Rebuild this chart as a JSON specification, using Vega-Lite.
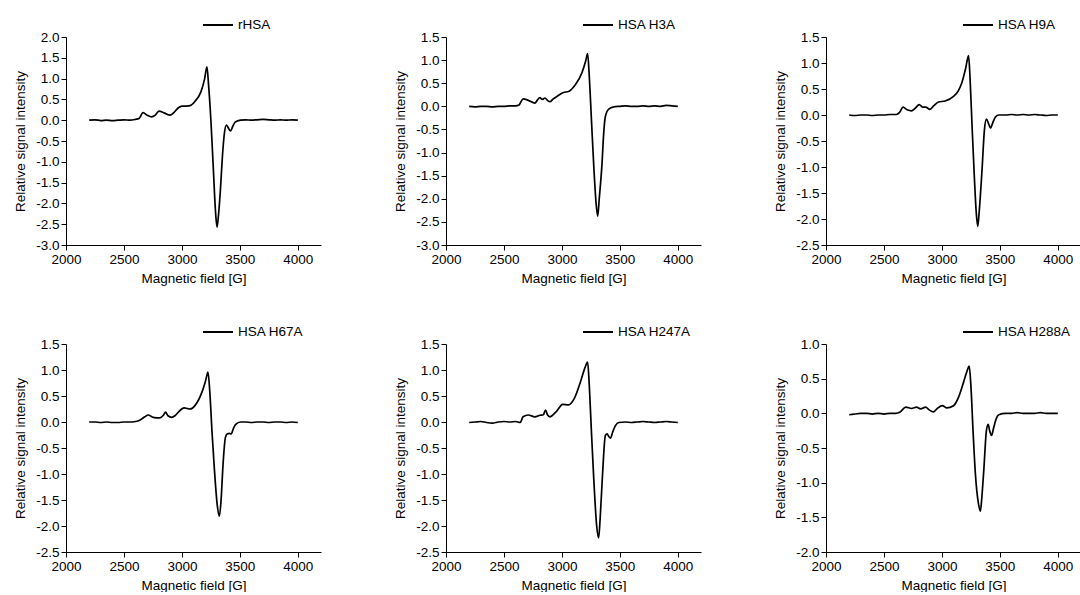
{
  "$schema": "https://vega.github.io/schema/vega-lite/v6.json",
  "padding": {"left": 13, "top": 9, "right": 0, "bottom": 0},
  "background": "white",
  "columns": 3,
  "spacing": {"row": 31, "column": 72},
  "resolve": {"scale": {"x": "independent", "y": "independent", "color": "independent"}, "legend": {"color": "independent"}, "axis": {"x": "independent", "y": "independent"}},
  "datasets": {
    "epr": [
      {"s": "rHSA", "B": 2200, "I": 0.0}, {"s": "rHSA", "B": 2250, "I": 0.01}, {"s": "rHSA", "B": 2300, "I": -0.01}, {"s": "rHSA", "B": 2350, "I": 0.0}, {"s": "rHSA", "B": 2400, "I": -0.01}, {"s": "rHSA", "B": 2450, "I": 0.0}, {"s": "rHSA", "B": 2500, "I": 0.01}, {"s": "rHSA", "B": 2550, "I": 0.0}, {"s": "rHSA", "B": 2600, "I": 0.02}, {"s": "rHSA", "B": 2630, "I": 0.04}, {"s": "rHSA", "B": 2665, "I": 0.18}, {"s": "rHSA", "B": 2700, "I": 0.12}, {"s": "rHSA", "B": 2738, "I": 0.08}, {"s": "rHSA", "B": 2770, "I": 0.12}, {"s": "rHSA", "B": 2801, "I": 0.22}, {"s": "rHSA", "B": 2850, "I": 0.17}, {"s": "rHSA", "B": 2897, "I": 0.12}, {"s": "rHSA", "B": 2930, "I": 0.18}, {"s": "rHSA", "B": 2970, "I": 0.30}, {"s": "rHSA", "B": 3000, "I": 0.34}, {"s": "rHSA", "B": 3040, "I": 0.34}, {"s": "rHSA", "B": 3070, "I": 0.35}, {"s": "rHSA", "B": 3114, "I": 0.46}, {"s": "rHSA", "B": 3164, "I": 0.68}, {"s": "rHSA", "B": 3195, "I": 0.98}, {"s": "rHSA", "B": 3216, "I": 1.28}, {"s": "rHSA", "B": 3230, "I": 0.85}, {"s": "rHSA", "B": 3250, "I": 0.0}, {"s": "rHSA", "B": 3270, "I": -1.1}, {"s": "rHSA", "B": 3290, "I": -2.2}, {"s": "rHSA", "B": 3303, "I": -2.57}, {"s": "rHSA", "B": 3315, "I": -2.3}, {"s": "rHSA", "B": 3332, "I": -1.68}, {"s": "rHSA", "B": 3350, "I": -0.85}, {"s": "rHSA", "B": 3365, "I": -0.35}, {"s": "rHSA", "B": 3384, "I": -0.12}, {"s": "rHSA", "B": 3400, "I": -0.18}, {"s": "rHSA", "B": 3419, "I": -0.26}, {"s": "rHSA", "B": 3440, "I": -0.14}, {"s": "rHSA", "B": 3462, "I": -0.04}, {"s": "rHSA", "B": 3506, "I": 0.0}, {"s": "rHSA", "B": 3550, "I": 0.01}, {"s": "rHSA", "B": 3600, "I": 0.0}, {"s": "rHSA", "B": 3650, "I": 0.01}, {"s": "rHSA", "B": 3700, "I": 0.02}, {"s": "rHSA", "B": 3750, "I": 0.01}, {"s": "rHSA", "B": 3800, "I": 0.0}, {"s": "rHSA", "B": 3850, "I": 0.01}, {"s": "rHSA", "B": 3900, "I": 0.0}, {"s": "rHSA", "B": 3950, "I": 0.01}, {"s": "rHSA", "B": 4000, "I": 0.0},

      {"s": "HSA H3A", "B": 2200, "I": 0.0}, {"s": "HSA H3A", "B": 2250, "I": -0.01}, {"s": "HSA H3A", "B": 2300, "I": 0.0}, {"s": "HSA H3A", "B": 2350, "I": 0.0}, {"s": "HSA H3A", "B": 2400, "I": -0.01}, {"s": "HSA H3A", "B": 2450, "I": 0.0}, {"s": "HSA H3A", "B": 2500, "I": 0.0}, {"s": "HSA H3A", "B": 2550, "I": 0.01}, {"s": "HSA H3A", "B": 2600, "I": 0.01}, {"s": "HSA H3A", "B": 2630, "I": 0.03}, {"s": "HSA H3A", "B": 2665, "I": 0.16}, {"s": "HSA H3A", "B": 2710, "I": 0.13}, {"s": "HSA H3A", "B": 2767, "I": 0.07}, {"s": "HSA H3A", "B": 2790, "I": 0.14}, {"s": "HSA H3A", "B": 2810, "I": 0.19}, {"s": "HSA H3A", "B": 2830, "I": 0.15}, {"s": "HSA H3A", "B": 2854, "I": 0.18}, {"s": "HSA H3A", "B": 2875, "I": 0.13}, {"s": "HSA H3A", "B": 2897, "I": 0.10}, {"s": "HSA H3A", "B": 2925, "I": 0.16}, {"s": "HSA H3A", "B": 2955, "I": 0.21}, {"s": "HSA H3A", "B": 3013, "I": 0.30}, {"s": "HSA H3A", "B": 3057, "I": 0.32}, {"s": "HSA H3A", "B": 3114, "I": 0.46}, {"s": "HSA H3A", "B": 3172, "I": 0.72}, {"s": "HSA H3A", "B": 3205, "I": 0.98}, {"s": "HSA H3A", "B": 3222, "I": 1.14}, {"s": "HSA H3A", "B": 3235, "I": 0.7}, {"s": "HSA H3A", "B": 3255, "I": -0.3}, {"s": "HSA H3A", "B": 3275, "I": -1.3}, {"s": "HSA H3A", "B": 3295, "I": -2.1}, {"s": "HSA H3A", "B": 3309, "I": -2.38}, {"s": "HSA H3A", "B": 3322, "I": -2.0}, {"s": "HSA H3A", "B": 3346, "I": -1.24}, {"s": "HSA H3A", "B": 3360, "I": -0.6}, {"s": "HSA H3A", "B": 3375, "I": -0.22}, {"s": "HSA H3A", "B": 3404, "I": -0.06}, {"s": "HSA H3A", "B": 3448, "I": -0.01}, {"s": "HSA H3A", "B": 3500, "I": 0.0}, {"s": "HSA H3A", "B": 3550, "I": 0.01}, {"s": "HSA H3A", "B": 3600, "I": 0.0}, {"s": "HSA H3A", "B": 3650, "I": 0.0}, {"s": "HSA H3A", "B": 3700, "I": 0.01}, {"s": "HSA H3A", "B": 3750, "I": 0.0}, {"s": "HSA H3A", "B": 3800, "I": 0.01}, {"s": "HSA H3A", "B": 3850, "I": 0.0}, {"s": "HSA H3A", "B": 3900, "I": 0.02}, {"s": "HSA H3A", "B": 3950, "I": 0.01}, {"s": "HSA H3A", "B": 4000, "I": 0.0},

      {"s": "HSA H9A", "B": 2200, "I": 0.0}, {"s": "HSA H9A", "B": 2250, "I": -0.01}, {"s": "HSA H9A", "B": 2300, "I": 0.0}, {"s": "HSA H9A", "B": 2350, "I": 0.0}, {"s": "HSA H9A", "B": 2400, "I": -0.01}, {"s": "HSA H9A", "B": 2450, "I": 0.0}, {"s": "HSA H9A", "B": 2500, "I": 0.0}, {"s": "HSA H9A", "B": 2550, "I": 0.01}, {"s": "HSA H9A", "B": 2607, "I": 0.01}, {"s": "HSA H9A", "B": 2635, "I": 0.05}, {"s": "HSA H9A", "B": 2665, "I": 0.15}, {"s": "HSA H9A", "B": 2700, "I": 0.10}, {"s": "HSA H9A", "B": 2738, "I": 0.08}, {"s": "HSA H9A", "B": 2770, "I": 0.13}, {"s": "HSA H9A", "B": 2804, "I": 0.20}, {"s": "HSA H9A", "B": 2835, "I": 0.15}, {"s": "HSA H9A", "B": 2860, "I": 0.15}, {"s": "HSA H9A", "B": 2897, "I": 0.11}, {"s": "HSA H9A", "B": 2930, "I": 0.18}, {"s": "HSA H9A", "B": 2970, "I": 0.25}, {"s": "HSA H9A", "B": 3028, "I": 0.27}, {"s": "HSA H9A", "B": 3100, "I": 0.36}, {"s": "HSA H9A", "B": 3140, "I": 0.46}, {"s": "HSA H9A", "B": 3172, "I": 0.62}, {"s": "HSA H9A", "B": 3205, "I": 0.90}, {"s": "HSA H9A", "B": 3230, "I": 1.14}, {"s": "HSA H9A", "B": 3243, "I": 0.7}, {"s": "HSA H9A", "B": 3260, "I": -0.2}, {"s": "HSA H9A", "B": 3280, "I": -1.2}, {"s": "HSA H9A", "B": 3297, "I": -1.9}, {"s": "HSA H9A", "B": 3309, "I": -2.14}, {"s": "HSA H9A", "B": 3322, "I": -1.85}, {"s": "HSA H9A", "B": 3346, "I": -1.06}, {"s": "HSA H9A", "B": 3367, "I": -0.28}, {"s": "HSA H9A", "B": 3384, "I": -0.08}, {"s": "HSA H9A", "B": 3400, "I": -0.15}, {"s": "HSA H9A", "B": 3419, "I": -0.25}, {"s": "HSA H9A", "B": 3440, "I": -0.14}, {"s": "HSA H9A", "B": 3462, "I": -0.04}, {"s": "HSA H9A", "B": 3490, "I": 0.0}, {"s": "HSA H9A", "B": 3550, "I": 0.0}, {"s": "HSA H9A", "B": 3600, "I": 0.01}, {"s": "HSA H9A", "B": 3650, "I": 0.0}, {"s": "HSA H9A", "B": 3700, "I": 0.01}, {"s": "HSA H9A", "B": 3750, "I": 0.0}, {"s": "HSA H9A", "B": 3800, "I": 0.01}, {"s": "HSA H9A", "B": 3850, "I": 0.0}, {"s": "HSA H9A", "B": 3900, "I": -0.01}, {"s": "HSA H9A", "B": 3950, "I": 0.0}, {"s": "HSA H9A", "B": 4000, "I": 0.0},

      {"s": "HSA H67A", "B": 2200, "I": 0.0}, {"s": "HSA H67A", "B": 2250, "I": 0.0}, {"s": "HSA H67A", "B": 2300, "I": -0.01}, {"s": "HSA H67A", "B": 2350, "I": 0.0}, {"s": "HSA H67A", "B": 2400, "I": -0.01}, {"s": "HSA H67A", "B": 2450, "I": -0.01}, {"s": "HSA H67A", "B": 2500, "I": 0.0}, {"s": "HSA H67A", "B": 2550, "I": 0.0}, {"s": "HSA H67A", "B": 2600, "I": 0.01}, {"s": "HSA H67A", "B": 2640, "I": 0.04}, {"s": "HSA H67A", "B": 2680, "I": 0.10}, {"s": "HSA H67A", "B": 2709, "I": 0.135}, {"s": "HSA H67A", "B": 2752, "I": 0.09}, {"s": "HSA H67A", "B": 2810, "I": 0.08}, {"s": "HSA H67A", "B": 2840, "I": 0.13}, {"s": "HSA H67A", "B": 2859, "I": 0.19}, {"s": "HSA H67A", "B": 2880, "I": 0.12}, {"s": "HSA H67A", "B": 2912, "I": 0.09}, {"s": "HSA H67A", "B": 2940, "I": 0.12}, {"s": "HSA H67A", "B": 2970, "I": 0.19}, {"s": "HSA H67A", "B": 3019, "I": 0.27}, {"s": "HSA H67A", "B": 3071, "I": 0.25}, {"s": "HSA H67A", "B": 3114, "I": 0.32}, {"s": "HSA H67A", "B": 3172, "I": 0.57}, {"s": "HSA H67A", "B": 3205, "I": 0.80}, {"s": "HSA H67A", "B": 3225, "I": 0.96}, {"s": "HSA H67A", "B": 3240, "I": 0.6}, {"s": "HSA H67A", "B": 3260, "I": -0.2}, {"s": "HSA H67A", "B": 3280, "I": -0.9}, {"s": "HSA H67A", "B": 3305, "I": -1.6}, {"s": "HSA H67A", "B": 3323, "I": -1.81}, {"s": "HSA H67A", "B": 3338, "I": -1.5}, {"s": "HSA H67A", "B": 3355, "I": -0.81}, {"s": "HSA H67A", "B": 3375, "I": -0.30}, {"s": "HSA H67A", "B": 3390, "I": -0.23}, {"s": "HSA H67A", "B": 3410, "I": -0.22}, {"s": "HSA H67A", "B": 3425, "I": -0.23}, {"s": "HSA H67A", "B": 3445, "I": -0.12}, {"s": "HSA H67A", "B": 3462, "I": -0.05}, {"s": "HSA H67A", "B": 3506, "I": 0.0}, {"s": "HSA H67A", "B": 3550, "I": 0.0}, {"s": "HSA H67A", "B": 3600, "I": -0.01}, {"s": "HSA H67A", "B": 3650, "I": 0.0}, {"s": "HSA H67A", "B": 3700, "I": 0.0}, {"s": "HSA H67A", "B": 3750, "I": -0.01}, {"s": "HSA H67A", "B": 3800, "I": 0.0}, {"s": "HSA H67A", "B": 3850, "I": 0.0}, {"s": "HSA H67A", "B": 3900, "I": -0.01}, {"s": "HSA H67A", "B": 3950, "I": 0.0}, {"s": "HSA H67A", "B": 4000, "I": -0.01},

      {"s": "HSA H247A", "B": 2200, "I": -0.01}, {"s": "HSA H247A", "B": 2250, "I": 0.0}, {"s": "HSA H247A", "B": 2300, "I": 0.01}, {"s": "HSA H247A", "B": 2350, "I": -0.01}, {"s": "HSA H247A", "B": 2400, "I": -0.02}, {"s": "HSA H247A", "B": 2450, "I": 0.0}, {"s": "HSA H247A", "B": 2500, "I": 0.01}, {"s": "HSA H247A", "B": 2550, "I": 0.0}, {"s": "HSA H247A", "B": 2600, "I": 0.01}, {"s": "HSA H247A", "B": 2640, "I": -0.01}, {"s": "HSA H247A", "B": 2665, "I": 0.10}, {"s": "HSA H247A", "B": 2709, "I": 0.135}, {"s": "HSA H247A", "B": 2767, "I": 0.10}, {"s": "HSA H247A", "B": 2810, "I": 0.13}, {"s": "HSA H247A", "B": 2840, "I": 0.14}, {"s": "HSA H247A", "B": 2859, "I": 0.23}, {"s": "HSA H247A", "B": 2875, "I": 0.14}, {"s": "HSA H247A", "B": 2897, "I": 0.10}, {"s": "HSA H247A", "B": 2925, "I": 0.14}, {"s": "HSA H247A", "B": 2955, "I": 0.21}, {"s": "HSA H247A", "B": 3007, "I": 0.34}, {"s": "HSA H247A", "B": 3057, "I": 0.33}, {"s": "HSA H247A", "B": 3106, "I": 0.45}, {"s": "HSA H247A", "B": 3164, "I": 0.80}, {"s": "HSA H247A", "B": 3200, "I": 1.05}, {"s": "HSA H247A", "B": 3222, "I": 1.15}, {"s": "HSA H247A", "B": 3235, "I": 0.75}, {"s": "HSA H247A", "B": 3255, "I": -0.2}, {"s": "HSA H247A", "B": 3275, "I": -1.1}, {"s": "HSA H247A", "B": 3300, "I": -2.0}, {"s": "HSA H247A", "B": 3317, "I": -2.23}, {"s": "HSA H247A", "B": 3330, "I": -1.85}, {"s": "HSA H247A", "B": 3349, "I": -1.07}, {"s": "HSA H247A", "B": 3375, "I": -0.26}, {"s": "HSA H247A", "B": 3390, "I": -0.23}, {"s": "HSA H247A", "B": 3405, "I": -0.28}, {"s": "HSA H247A", "B": 3419, "I": -0.31}, {"s": "HSA H247A", "B": 3440, "I": -0.18}, {"s": "HSA H247A", "B": 3462, "I": -0.07}, {"s": "HSA H247A", "B": 3491, "I": -0.01}, {"s": "HSA H247A", "B": 3550, "I": 0.0}, {"s": "HSA H247A", "B": 3600, "I": -0.01}, {"s": "HSA H247A", "B": 3650, "I": 0.0}, {"s": "HSA H247A", "B": 3700, "I": 0.01}, {"s": "HSA H247A", "B": 3750, "I": 0.0}, {"s": "HSA H247A", "B": 3800, "I": -0.01}, {"s": "HSA H247A", "B": 3850, "I": 0.0}, {"s": "HSA H247A", "B": 3900, "I": 0.01}, {"s": "HSA H247A", "B": 3950, "I": 0.0}, {"s": "HSA H247A", "B": 4000, "I": -0.01},

      {"s": "HSA H288A", "B": 2200, "I": -0.02}, {"s": "HSA H288A", "B": 2250, "I": -0.01}, {"s": "HSA H288A", "B": 2300, "I": 0.0}, {"s": "HSA H288A", "B": 2350, "I": 0.0}, {"s": "HSA H288A", "B": 2400, "I": -0.01}, {"s": "HSA H288A", "B": 2450, "I": 0.0}, {"s": "HSA H288A", "B": 2500, "I": -0.01}, {"s": "HSA H288A", "B": 2550, "I": 0.0}, {"s": "HSA H288A", "B": 2600, "I": 0.0}, {"s": "HSA H288A", "B": 2640, "I": 0.02}, {"s": "HSA H288A", "B": 2688, "I": 0.09}, {"s": "HSA H288A", "B": 2738, "I": 0.07}, {"s": "HSA H288A", "B": 2781, "I": 0.09}, {"s": "HSA H288A", "B": 2816, "I": 0.065}, {"s": "HSA H288A", "B": 2859, "I": 0.09}, {"s": "HSA H288A", "B": 2890, "I": 0.05}, {"s": "HSA H288A", "B": 2926, "I": 0.02}, {"s": "HSA H288A", "B": 2960, "I": 0.07}, {"s": "HSA H288A", "B": 3004, "I": 0.11}, {"s": "HSA H288A", "B": 3042, "I": 0.08}, {"s": "HSA H288A", "B": 3100, "I": 0.11}, {"s": "HSA H288A", "B": 3143, "I": 0.23}, {"s": "HSA H288A", "B": 3187, "I": 0.45}, {"s": "HSA H288A", "B": 3215, "I": 0.60}, {"s": "HSA H288A", "B": 3236, "I": 0.68}, {"s": "HSA H288A", "B": 3250, "I": 0.4}, {"s": "HSA H288A", "B": 3270, "I": -0.3}, {"s": "HSA H288A", "B": 3290, "I": -0.9}, {"s": "HSA H288A", "B": 3315, "I": -1.3}, {"s": "HSA H288A", "B": 3332, "I": -1.41}, {"s": "HSA H288A", "B": 3345, "I": -1.2}, {"s": "HSA H288A", "B": 3361, "I": -0.83}, {"s": "HSA H288A", "B": 3384, "I": -0.25}, {"s": "HSA H288A", "B": 3399, "I": -0.16}, {"s": "HSA H288A", "B": 3412, "I": -0.25}, {"s": "HSA H288A", "B": 3428, "I": -0.32}, {"s": "HSA H288A", "B": 3445, "I": -0.22}, {"s": "HSA H288A", "B": 3462, "I": -0.11}, {"s": "HSA H288A", "B": 3491, "I": -0.02}, {"s": "HSA H288A", "B": 3550, "I": 0.0}, {"s": "HSA H288A", "B": 3600, "I": 0.0}, {"s": "HSA H288A", "B": 3650, "I": 0.01}, {"s": "HSA H288A", "B": 3700, "I": 0.0}, {"s": "HSA H288A", "B": 3750, "I": 0.0}, {"s": "HSA H288A", "B": 3800, "I": 0.0}, {"s": "HSA H288A", "B": 3850, "I": 0.01}, {"s": "HSA H288A", "B": 3900, "I": 0.0}, {"s": "HSA H288A", "B": 3950, "I": 0.0}, {"s": "HSA H288A", "B": 4000, "I": 0.0}
    ]
  },
  "data": {"name": "epr"},
  "concat": [
    {
      "width": 255, "height": 208,
      "transform": [{"filter": "datum.s === 'rHSA'"}],
      "mark": {"type": "line", "color": "#000", "strokeWidth": 1.7, "interpolate": "monotone"},
      "encoding": {
        "x": {"field": "B", "type": "quantitative", "scale": {"domain": [2000, 4200], "nice": false}, "axis": {"values": [2000, 2500, 3000, 3500, 4000], "format": "d", "title": "Magnetic field [G]"}},
        "y": {"field": "I", "type": "quantitative", "scale": {"domain": [-3, 2], "nice": false, "zero": false}, "axis": {"values": [-3, -2.5, -2, -1.5, -1, -0.5, 0, 0.5, 1, 1.5, 2], "format": ".1f", "title": "Relative signal intensity"}},
        "color": {"field": "s", "type": "nominal", "scale": {"range": ["#000"]}, "legend": {"title": null, "orient": "none", "legendX": 136, "legendY": -28}}
      }
    },
    {
      "width": 255, "height": 208,
      "transform": [{"filter": "datum.s === 'HSA H3A'"}],
      "mark": {"type": "line", "color": "#000", "strokeWidth": 1.7, "interpolate": "monotone"},
      "encoding": {
        "x": {"field": "B", "type": "quantitative", "scale": {"domain": [2000, 4200], "nice": false}, "axis": {"values": [2000, 2500, 3000, 3500, 4000], "format": "d", "title": "Magnetic field [G]"}},
        "y": {"field": "I", "type": "quantitative", "scale": {"domain": [-3, 1.5], "nice": false, "zero": false}, "axis": {"values": [-3, -2.5, -2, -1.5, -1, -0.5, 0, 0.5, 1, 1.5], "format": ".1f", "title": "Relative signal intensity"}},
        "color": {"field": "s", "type": "nominal", "scale": {"range": ["#000"]}, "legend": {"title": null, "orient": "none", "legendX": 136, "legendY": -28}}
      }
    },
    {
      "width": 255, "height": 208,
      "transform": [{"filter": "datum.s === 'HSA H9A'"}],
      "mark": {"type": "line", "color": "#000", "strokeWidth": 1.7, "interpolate": "monotone"},
      "encoding": {
        "x": {"field": "B", "type": "quantitative", "scale": {"domain": [2000, 4200], "nice": false}, "axis": {"values": [2000, 2500, 3000, 3500, 4000], "format": "d", "title": "Magnetic field [G]"}},
        "y": {"field": "I", "type": "quantitative", "scale": {"domain": [-2.5, 1.5], "nice": false, "zero": false}, "axis": {"values": [-2.5, -2, -1.5, -1, -0.5, 0, 0.5, 1, 1.5], "format": ".1f", "title": "Relative signal intensity"}},
        "color": {"field": "s", "type": "nominal", "scale": {"range": ["#000"]}, "legend": {"title": null, "orient": "none", "legendX": 136, "legendY": -28}}
      }
    },
    {
      "width": 255, "height": 208,
      "transform": [{"filter": "datum.s === 'HSA H67A'"}],
      "mark": {"type": "line", "color": "#000", "strokeWidth": 1.7, "interpolate": "monotone"},
      "encoding": {
        "x": {"field": "B", "type": "quantitative", "scale": {"domain": [2000, 4200], "nice": false}, "axis": {"values": [2000, 2500, 3000, 3500, 4000], "format": "d", "title": "Magnetic field [G]"}},
        "y": {"field": "I", "type": "quantitative", "scale": {"domain": [-2.5, 1.5], "nice": false, "zero": false}, "axis": {"values": [-2.5, -2, -1.5, -1, -0.5, 0, 0.5, 1, 1.5], "format": ".1f", "title": "Relative signal intensity"}},
        "color": {"field": "s", "type": "nominal", "scale": {"range": ["#000"]}, "legend": {"title": null, "orient": "none", "legendX": 136, "legendY": -28}}
      }
    },
    {
      "width": 255, "height": 208,
      "transform": [{"filter": "datum.s === 'HSA H247A'"}],
      "mark": {"type": "line", "color": "#000", "strokeWidth": 1.7, "interpolate": "monotone"},
      "encoding": {
        "x": {"field": "B", "type": "quantitative", "scale": {"domain": [2000, 4200], "nice": false}, "axis": {"values": [2000, 2500, 3000, 3500, 4000], "format": "d", "title": "Magnetic field [G]"}},
        "y": {"field": "I", "type": "quantitative", "scale": {"domain": [-2.5, 1.5], "nice": false, "zero": false}, "axis": {"values": [-2.5, -2, -1.5, -1, -0.5, 0, 0.5, 1, 1.5], "format": ".1f", "title": "Relative signal intensity"}},
        "color": {"field": "s", "type": "nominal", "scale": {"range": ["#000"]}, "legend": {"title": null, "orient": "none", "legendX": 136, "legendY": -28}}
      }
    },
    {
      "width": 255, "height": 208,
      "transform": [{"filter": "datum.s === 'HSA H288A'"}],
      "mark": {"type": "line", "color": "#000", "strokeWidth": 1.7, "interpolate": "monotone"},
      "encoding": {
        "x": {"field": "B", "type": "quantitative", "scale": {"domain": [2000, 4200], "nice": false}, "axis": {"values": [2000, 2500, 3000, 3500, 4000], "format": "d", "title": "Magnetic field [G]"}},
        "y": {"field": "I", "type": "quantitative", "scale": {"domain": [-2, 1], "nice": false, "zero": false}, "axis": {"values": [-2, -1.5, -1, -0.5, 0, 0.5, 1], "format": ".1f", "title": "Relative signal intensity"}},
        "color": {"field": "s", "type": "nominal", "scale": {"range": ["#000"]}, "legend": {"title": null, "orient": "none", "legendX": 136, "legendY": -28}}
      }
    }
  ],
  "config": {
    "font": "Liberation Sans",
    "view": {"stroke": null},
    "locale": {"number": {"decimal": ".", "thousands": ",", "grouping": [3], "currency": ["$", ""], "minus": "-"}},
    "axis": {"grid": false, "domainColor": "#000", "tickColor": "#000", "labelColor": "#000", "titleColor": "#000", "labelFontSize": 13.5, "titleFontSize": 13.5, "titleFontWeight": "normal", "tickSize": 5, "labelPadding": 2, "labelFont": "Liberation Sans", "titleFont": "Liberation Sans", "domainWidth": 1, "tickWidth": 1, "labelFlush": false},
    "axisX": {"titlePadding": 6},
    "axisY": {"titlePadding": 8},
    "legend": {"symbolType": "stroke", "symbolSize": 900, "symbolStrokeWidth": 2, "symbolStrokeColor": "#000", "labelFontSize": 13.5, "labelColor": "#000", "labelFont": "Liberation Sans", "labelOffset": 4, "padding": 0}
  }
}
